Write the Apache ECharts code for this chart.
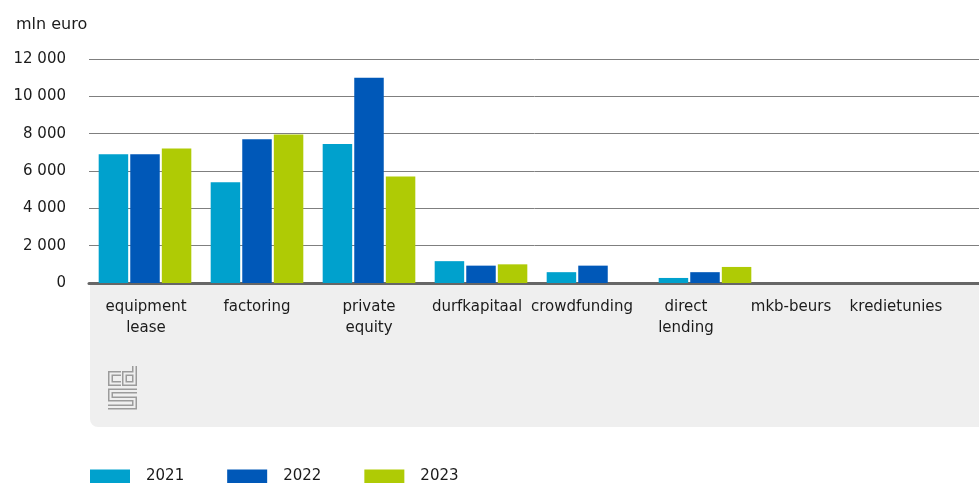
<!DOCTYPE html>
<html>
<head>
<meta charset="utf-8">
<script src="https://cdn.jsdelivr.net/npm/echarts@6/dist/echarts.min.js"></script>
<style>
  html, body { margin: 0; padding: 0; background: #ffffff; }
  #chart { width: 979px; height: 483px; }
</style>
</head>
<body>
<div id="chart"></div>
<script>
// ---- data ----
const categories = ['equipment\nlease', 'factoring', 'private\nequity', 'durfkapitaal', 'crowdfunding', 'direct\nlending', 'mkb-beurs', 'kredietunies'];
const seriesNames = ['2021', '2022', '2023'];
const values2021 = [6900, 5400, 7450, 1170, 580, 270, null, null];
const values2022 = [6900, 7700, 11000, 930, 930, 580, null, null];
const values2023 = [7200, 7950, 5700, 1000, null, 860, null, null];
const yMax = 12000;
const yInterval = 2000;
const unitLabel = 'mln euro';

// ---- style ----
const colors = ['#00a1cd', '#0058b8', '#afcb05'];
const labelShift = [1, 0, 0, -4, -11, -19, -26, -33]; // horizontal nudge of category labels (px)
const FONT = 'DejaVu Sans';
const TEXT = '#1b1b1b';
const PANEL = '#efefef';

const rich = {};
labelShift.forEach(function (s, i) {
  rich['s' + i] = {
    fontFamily: FONT, fontSize: 15, lineHeight: 21, color: TEXT,
    padding: s >= 0 ? [0, 0, 0, 2 * s] : [0, -2 * s, 0, 0]
  };
});

function fmt(v) {
  return String(v).replace(/\B(?=(\d{3})+(?!\d))/g, ' ');
}

const chart = echarts.init(document.getElementById('chart'), null, { renderer: 'canvas' });

const logoStroke = '#9b9b9b';
const logoPaths = [
  [[121, 373.5], [110.5, 373.5], [110.5, 383.5], [121, 383.5]],
  [[134.5, 366], [134.5, 383.5], [124.5, 383.5], [124.5, 373.5], [134.5, 373.5]],
  [[137, 391], [110.5, 391], [110.5, 399], [134.5, 399], [134.5, 407], [108, 407]]
];
const logoGraphics = [];
logoPaths.forEach(function (p) {
  logoGraphics.push({ type: 'polyline', z: -9, silent: true, shape: { points: p },
    style: { stroke: logoStroke, lineWidth: 5, fill: null, lineJoin: 'miter', lineCap: 'butt' } });
});
logoPaths.forEach(function (p) {
  logoGraphics.push({ type: 'polyline', z: -8, silent: true, shape: { points: p },
    style: { stroke: PANEL, lineWidth: 2, fill: null, lineJoin: 'miter', lineCap: 'butt' } });
});

const option = {
  animation: false,
  color: colors,
  textStyle: { fontFamily: FONT, color: TEXT },
  title: {
    text: unitLabel, left: 11, top: 12,
    textStyle: { fontFamily: FONT, fontSize: 16, fontWeight: 'normal', color: TEXT }
  },
  legend: {
    data: seriesNames,
    left: 85, top: 464,
    icon: 'rect', itemWidth: 40, itemHeight: 14, itemGap: 43,
    textStyle: { fontFamily: FONT, fontSize: 15, color: TEXT, padding: [0, 0, 0, 11] }
  },
  grid: { left: 89, top: 59, width: 896, height: 224, containLabel: false, outerBoundsMode: 'none' },
  graphic: [
    { type: 'rect', z: -10, silent: true,
      shape: { x: 90, y: 284, width: 900, height: 143, r: [0, 0, 0, 8] },
      style: { fill: PANEL } }
  ].concat(logoGraphics),
  xAxis: {
    type: 'category',
    data: categories,
    offset: 1,
    axisLine: { show: true, lineStyle: { color: '#666666', width: 3 } },
    axisTick: { show: false },
    axisLabel: {
      interval: 0, margin: 13, hideOverlap: false,
      fontFamily: FONT, fontSize: 15, lineHeight: 21, color: TEXT,
      formatter: function (val, idx) { return '{s' + idx + '|' + val + '}'; },
      rich: rich
    },
    splitLine: { show: false }
  },
  yAxis: {
    type: 'value',
    min: 0, max: yMax, interval: yInterval,
    axisLine: { show: false },
    axisTick: { show: false },
    axisLabel: { margin: 23, fontFamily: FONT, fontSize: 15, color: TEXT, formatter: fmt },
    splitLine: { lineStyle: { color: '#7f7f7f', width: 1 } }
  },
  series: [
    { name: seriesNames[0], type: 'bar', data: values2021, barWidth: 29.5, barGap: '7%' },
    { name: seriesNames[1], type: 'bar', data: values2022, barWidth: 29.5, barGap: '7%' },
    { name: seriesNames[2], type: 'bar', data: values2023, barWidth: 29.5, barGap: '7%' }
  ]
};
chart.setOption(option);
</script>
</body>
</html>
